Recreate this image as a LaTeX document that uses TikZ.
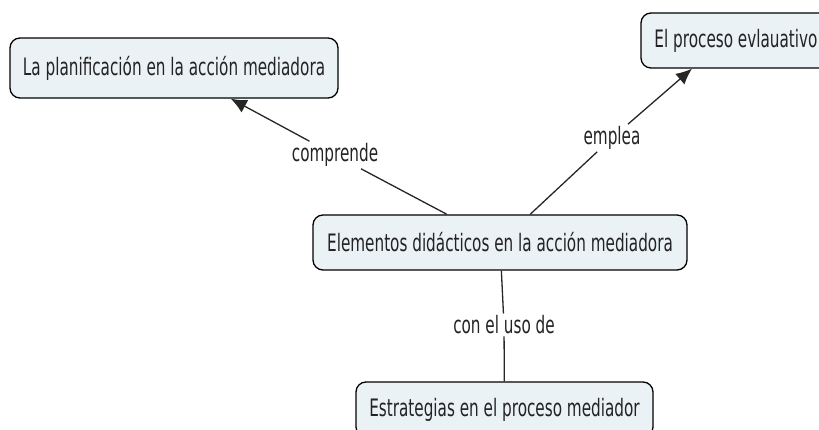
\documentclass[tikz,border=0pt]{standalone}
\usepackage{fontspec}
\setmainfont{DejaVu Sans}[FakeStretch=0.635]
\usetikzlibrary{arrows.meta}
\definecolor{conceptfill}{RGB}{235,242,245}
\definecolor{conceptink}{RGB}{35,35,35}
\tikzset{
  concept/.style={draw,line width=1.3pt,rounded corners=10pt,fill=conceptfill,text=conceptink,
    font=\fontsize{24}{28}\selectfont,inner sep=0pt,minimum height=55pt},
  linkword/.style={text=conceptink,font=\fontsize{24}{28}\selectfont,inner sep=2pt},
  link/.style={line width=1.3pt,draw=black!85},
  tip/.style={-{Latex[length=16pt,width=14pt]}}
}
\begin{document}
\begin{tikzpicture}[x=1pt,y=1pt]
\useasboundingbox (0,0) rectangle (819,-430);
\clip (0,0) rectangle (819,-430);
% concepts
\node[concept,minimum width=328pt,minimum height=60pt] (plan) at (174,-68) {La planificación en la acción mediadora};
\node[concept,minimum width=190pt] (eval) at (736,-40.5) {El proceso evlauativo};
\node[concept,minimum width=374pt] (elem) at (500,-242.5) {Elementos didácticos en la acción mediadora};
\node[concept,minimum width=297pt] (estr) at (504.5,-409.5) {Estrategias en el proceso mediador};
% linking words
\node[linkword] (comprende) at (335,-155) {comprende};
\node[linkword] (emplea) at (612,-138) {emplea};
\node[linkword] (uso) at (504,-325) {con el uso de};
\draw[link] (elem) -- (comprende);
\draw[link,tip] (comprende) -- (plan);
\draw[link] (elem) -- (emplea);
\draw[link,tip] (emplea) -- ([xshift=-44pt]eval.south);
\draw[link] (elem) -- (uso);
\draw[link] (uso) -- (estr);
\end{tikzpicture}
\end{document}
